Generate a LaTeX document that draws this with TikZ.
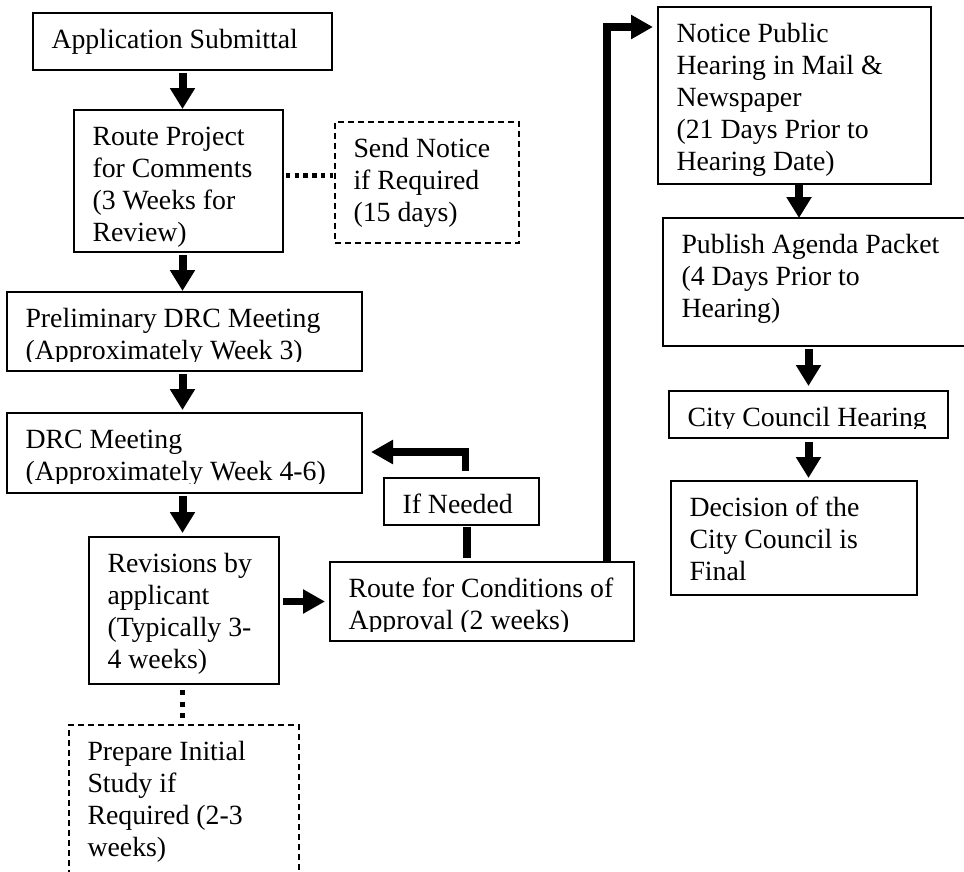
\documentclass[tikz,border=0pt]{standalone}
\usepackage{fontspec}
\setmainfont{Liberation Serif}
\usetikzlibrary{arrows.meta,calc}
\tikzset{
  box/.style={draw, line width=1.5pt, inner sep=0pt, outer sep=0pt},
  dbox/.style={box, dash pattern=on 6pt off 4pt},
  txt/.style={inner sep=0pt, outer sep=0pt, align=left, font=\fontsize{27.8}{32}\selectfont, anchor=north west},
  arr/.style={line width=8pt, -{Triangle[width=24pt,length=21pt]}},
  arrb/.style={line width=7.5pt, line join=miter, -{Triangle[width=23pt,length=22pt]}},
  thickbar/.style={line width=7.5pt},
  dotsh/.style={line width=5pt, dash pattern=on 4.4pt off 4.3pt},
  dotsv/.style={line width=5pt, dash pattern=on 5pt off 6.5pt},
}
\newcommand\mkbox[6]{\node[#1, anchor=north west, minimum width={(#5-#3)*1pt}, minimum height={(#6-#4)*1pt}] (#2) at (#3,#4) {};}
% #1 clip offset from box bottom, #2 box, #3 text node name, #4 text
\newcommand\mktext[4][2]{\begin{scope}\clip ([yshift=#1pt]#2.south west) rectangle (#2.north east);
 \node[txt] (#3) at ([shift={(18.5pt,-10pt)}]#2.north west) {\rule{0pt}{25pt}#4};\end{scope}}
\begin{document}
\begin{tikzpicture}[x=1pt,y=-1pt]
\useasboundingbox (0,0) rectangle (964,871);
% boxes
\mkbox{box}{app}{33}{13}{332}{70}
\mkbox{box}{route}{74}{110}{283}{252}
\mkbox{dbox}{send}{335}{122}{519}{243}
\mkbox{box}{prelim}{7}{292}{362}{371}
\mkbox{box}{drc}{7}{413}{362}{493}
\mkbox{box}{ifneeded}{384}{478}{539}{525}
\mkbox{box}{rev}{89}{537}{279}{684}
\mkbox{box}{cond}{330}{562}{634}{641}
\mkbox{dbox}{prep}{69}{725}{299}{890}
\mkbox{box}{npub}{658}{7}{931}{184}
\mkbox{box}{pub}{663}{218}{972}{346}
\mkbox{box}{cch}{669}{391}{948}{438}
\mkbox{box}{dec}{671}{481}{917}{595}
% texts
\mktext{app}{tapp}{Application Submittal}
\mktext{route}{troute}{Route Project\\for Comments\\(3 Weeks for\\Review)}
\mktext{send}{tsend}{Send Notice\\if Required\\(15 days)}
\mktext[10]{prelim}{tprelim}{Preliminary DRC Meeting\\(Approximately Week 3)}
\mktext[10]{drc}{tdrc}{DRC Meeting\\(Approximately Week 4-6)}
\mktext{ifneeded}{tifneeded}{If Needed}
\mktext{rev}{trev}{Revisions by\\applicant\\(Typically 3-\\4 weeks)}
\mktext[10]{cond}{tcond}{Route for Conditions of\\Approval (2 weeks)}
\mktext{prep}{tprep}{Prepare Initial\\Study if\\Required (2-3\\weeks)}
\mktext{npub}{tnpub}{Notice Public\\Hearing in Mail \&\\Newspaper\\(21 Days Prior to\\Hearing Date)}
\mktext{pub}{tpub}{Publish Agenda Packet\\(4 Days Prior to\\Hearing)}
\mktext[10]{cch}{tcch}{City Council Hearing}
\mktext{dec}{tdec}{Decision of the\\City Council is\\Final}
% connectors
\draw[arr] ($(app.south)+(0,3)$) -- ($(app.south |- route.north)+(0,-1)$);
\draw[arr] ($(route.south -| app.south)+(0,3)$) -- ($(app.south |- prelim.north)+(0,-1)$);
\draw[arr] ($(prelim.south -| app.south)+(0,3)$) -- ($(app.south |- drc.north)+(0,-3)$);
\draw[arr] ($(drc.south -| app.south)+(0,3)$) -- ($(app.south |- rev.north)+(0,-4)$);
\draw[dotsh] ($(route.east)+(3,-5.5)$) -- ($(send.west |- route.east)+(-2,-5.5)$);
\draw[dotsv] ($(rev.south -| app.south)+(0,6)$) -- ($(app.south |- prep.north)+(0,-6)$);
\draw[arrb] ($(rev.east)+(4,-9)$) -- ($(cond.west |- rev.east)+(-5,-9)$);
\draw[arrb] ($(ifneeded.north)+(4,-7)$) |- ($(drc.east)+(9,-1)$);
\draw[thickbar] ($(ifneeded.south)+(5.5,2)$) -- ($(ifneeded.south |- cond.north)+(5.5,-4)$);
\draw[arrb] ($(cond.north east)+(-27,0)$) |- ($(npub.north west)+(-5,20)$);
\draw[arr] ($(npub.south)+(4.5,0)$) -- ($(npub.south |- pub.north)+(4.5,0)$);
\draw[arr] ($(pub.south -| cch.north)+(0,3)$) -- ($(cch.north)+(0,-5)$);
\draw[arr] ($(cch.south)+(0,4)$) -- ($(cch.south |- dec.north)+(0,-3)$);
\end{tikzpicture}
\end{document}
